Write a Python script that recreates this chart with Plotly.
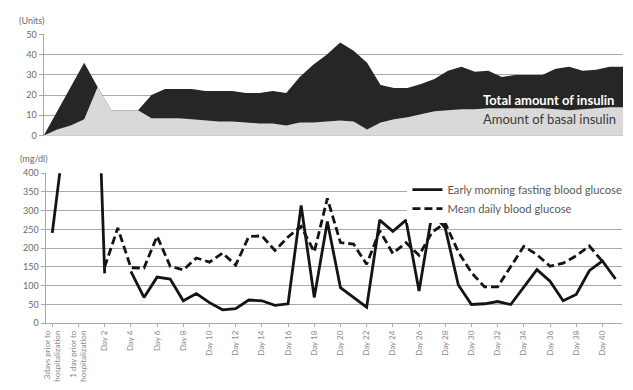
import plotly.graph_objects as go

# ---- data -------------------------------------------------------------
categories = (["3days prior to hospitalization",
               "2 days prior to hospitalization",
               "1 day prior to hospitalization"]
              + [f"Day {d}" for d in range(1, 42)])

# insulin doses (units/day)
total_insulin = [0, 12, 24, 36, 24, 12.5, 12.5, 12.5, 20, 23,
                 23, 23, 22, 22, 22, 21, 21, 22, 21, 29,
                 35, 40, 46, 42, 36, 25, 23.5, 23.5, 25.5, 28,
                 32, 34, 31.5, 32, 29, 30, 30, 30, 33, 34,
                 32, 32.5, 34, 34]
basal_insulin = [0, 3, 5, 8, 24, 12.5, 12.5, 12.5, 8.5, 8.5,
                 8.5, 8, 7.5, 7, 7, 6.5, 6, 6, 5, 6.5,
                 6.5, 7, 7.5, 7, 3, 6.5, 8, 9, 10.5, 12,
                 12.5, 13, 13, 13.5, 13.5, 13.5, 13.5, 13.5, 13, 12.5,
                 13, 13.5, 14, 14]

# blood glucose (mg/dl)
fasting_glucose = [241, 480, 800, 1150, 133, None, 138, 69, 123, 118,
                   60, 79, 55, 36, 39, 62, 60, 48, 52, 314,
                   69, 271, 95, 69, 43, 275, 245, 275, 86, 294,
                   254, 102, 50, 52, 58, 50, 95, 143, 112, 60,
                   77, 140, 166, 118]
mean_glucose = [None, None, None, None, 150, 254, 148, 147, 232, 152,
                142, 174, 163, 187, 155, 231, 233, 194, 230, 258,
                190, 333, 215, 211, 157, 247, 186, 215, 181, 243,
                267, 190, 135, 97, 97, 150, 205, 183, 152, 160,
                180, 206, 165, None]

insulin_ticks = [0, 10, 20, 30, 40, 50]
glucose_ticks = [0, 50, 100, 150, 200, 250, 300, 350, 400]
day_tick_labels = (["3days prior to<br>hospitalization",
                    "1 day prior to<br>hospitalization"]
                   + [f"Day {d}" for d in range(2, 41, 2)])

# ---- styling ----------------------------------------------------------
W, H = 633, 390
FONT = "Lato"
GRID = "#a9a9a9"
TEXT = "#6b6b6b"


def fx(px):
    return px / W


def fy(px):
    return 1 - px / H


fig = go.Figure()

# insulin areas: total behind, basal in front
fig.add_trace(go.Scatter(
    x=categories, y=total_insulin, mode="lines", fill="tozeroy",
    fillcolor="#262626", line=dict(width=0, color="#262626"),
    name="Total amount of insulin", showlegend=False,
    xaxis="x", yaxis="y", hoverinfo="skip"))
fig.add_trace(go.Scatter(
    x=categories, y=basal_insulin, mode="lines", fill="tozeroy",
    fillcolor="#d9d9d9", line=dict(width=0, color="#d9d9d9"),
    name="Amount of basal insulin", showlegend=False,
    xaxis="x", yaxis="y", hoverinfo="skip"))

# glucose lines
fig.add_trace(go.Scatter(
    x=categories, y=fasting_glucose, mode="lines",
    line=dict(color="#141414", width=2.8),
    name="Early morning fasting blood glucose",
    xaxis="x2", yaxis="y2", connectgaps=False))
fig.add_trace(go.Scatter(
    x=categories, y=mean_glucose, mode="lines",
    line=dict(color="#141414", width=2.8, dash="8px,4px"),
    name="Mean daily blood glucose",
    xaxis="x2", yaxis="y2", connectgaps=False))

yaxis_common = dict(
    showgrid=True, gridcolor=GRID, gridwidth=1.3,
    showline=True, linecolor=GRID, linewidth=1.3,
    ticks="outside", ticklen=4, tickcolor=GRID, tickwidth=1.3,
    zeroline=False, tickfont=dict(family=FONT, size=9, color=TEXT),
    fixedrange=True,
)

fig.update_layout(
    width=W, height=H,
    margin=dict(l=0, r=0, t=0, b=0),
    paper_bgcolor="white", plot_bgcolor="white",
    font=dict(family=FONT, color=TEXT),
    xaxis=dict(domain=[fx(40), fx(623)], anchor="y", type="category",
               categoryorder="array", categoryarray=categories,
               range=[0, len(categories) - 1], showticklabels=False,
               showgrid=False, zeroline=False, showline=False,
               ticks=""),
    yaxis=dict(domain=[fy(133.3), fy(29.3)], anchor="x", range=[0, 50],
               tickvals=insulin_ticks, **yaxis_common),
    xaxis2=dict(domain=[fx(42), fx(622)], anchor="y2", type="category",
                categoryorder="array", categoryarray=categories,
                range=[-0.5, len(categories) - 0.5],
                tickvals=categories[0::2], ticktext=day_tick_labels,
                tickangle=-90, showgrid=False, zeroline=False,
                showline=True, linecolor=GRID, linewidth=1.3,
                ticks="outside", ticklen=3, tickcolor=GRID,
                tickfont=dict(family=FONT, size=8, color="#8a8a8a")),
    yaxis2=dict(domain=[fy(326.5), fy(172)], anchor="x2", range=[0, 400],
                tickvals=glucose_ticks, **yaxis_common),
    legend=dict(x=fx(406), y=fy(174), xanchor="left", yanchor="top",
                bgcolor="white", borderwidth=0,
                font=dict(family=FONT, size=11.2, color="#5a5a5a"),
                tracegroupgap=0, itemwidth=30),
    annotations=[
        dict(text="(Units)", x=fx(13), y=fy(15), xref="paper", yref="paper",
             xanchor="left", yanchor="middle", showarrow=False,
             font=dict(family=FONT, size=9, color=TEXT)),
        dict(text="(mg/dl)", x=fx(14), y=fy(157), xref="paper", yref="paper",
             xanchor="left", yanchor="middle", showarrow=False,
             font=dict(family=FONT, size=9, color=TEXT)),
        dict(text="<b>Total amount of insulin</b>", x=fx(480), y=fy(97),
             xref="paper", yref="paper", xanchor="left", yanchor="middle",
             showarrow=False, font=dict(family=FONT, size=13, color="white")),
        dict(text="Amount of basal insulin", x=fx(480), y=fy(116),
             xref="paper", yref="paper", xanchor="left", yanchor="middle",
             showarrow=False, font=dict(family=FONT, size=13, color="#3a3a3a")),
    ],
)

fig.write_html("out.html")
